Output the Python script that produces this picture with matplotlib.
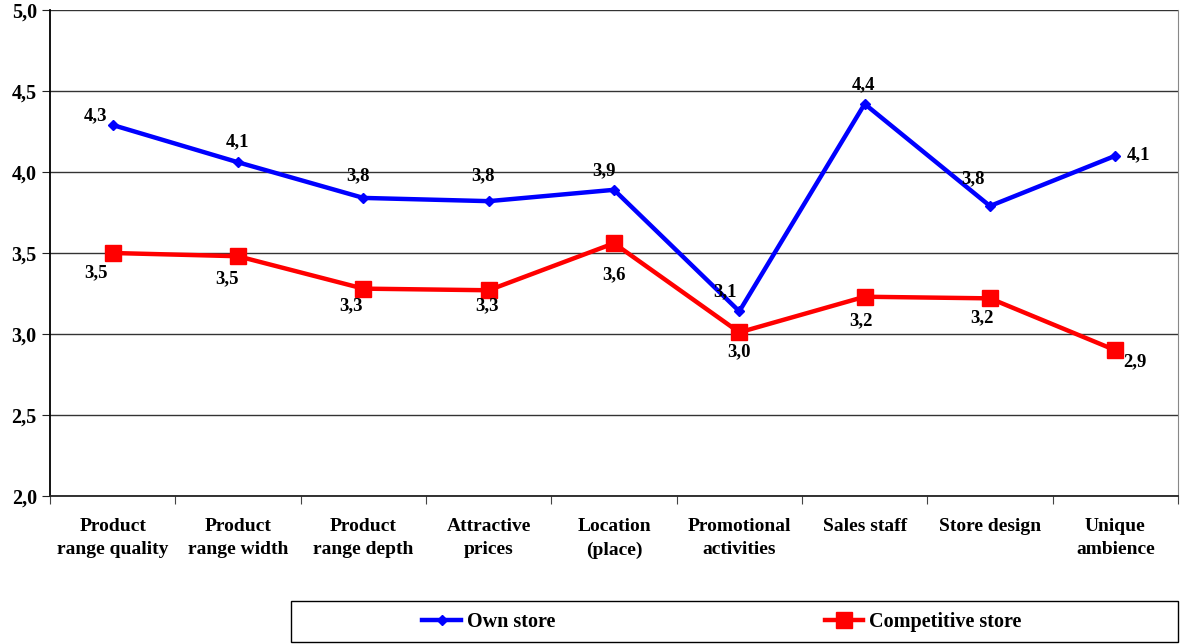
import matplotlib
matplotlib.use("Agg")
import matplotlib.pyplot as plt
from matplotlib.patches import Rectangle
import numpy as np

categories = [
	"Product\nrange quality",
	"Product\nrange width",
	"Product\nrange depth",
	"Attractive\nprices",
	"Location\n(place)",
	"Promotional\nactivities",
	"Sales staff",
	"Store design",
	"Unique\nambience",
]
own_store = [4.29, 4.06, 3.84, 3.82, 3.89, 3.14, 4.42, 3.79, 4.10]
competitive_store = [3.50, 3.48, 3.28, 3.27, 3.56, 3.01, 3.23, 3.22, 2.90]

# label offsets in points (dx, dy) for each value label
own_offsets = [(-12, 7), (0, 15), (-4, 16), (-4, 18), (-7, 14), (-10, 14), (-1, 14), (-12, 20), (17, 1)]
comp_offsets = [(-12, -14), (-8, -16), (-9, -12), (-1, -11), (0, -23), (0, -14), (-3, -17), (-6, -14), (14, -8)]

plt.rcParams['font.family'] = ['Liberation Serif', 'DejaVu Serif']
plt.rcParams['font.weight'] = 'bold'


def fmt(v):
	return "{0:.1f}".format(v).replace('.', ',')


def main():
	fig = plt.figure(figsize=(11.82, 6.44), dpi=100)
	ax = fig.add_axes([0.0423, 0.2298, 0.9543, 0.7547])

	x = np.arange(len(categories))
	ax.set_xlim(-0.5, len(categories) - 0.5)
	ax.set_ylim(2.0, 5.0)

	yticks = np.arange(2.0, 5.01, 0.5)
	ax.set_yticks(yticks)
	ax.set_yticklabels([fmt(t) for t in yticks], fontsize=14.5, fontweight='bold')
	ax.yaxis.grid(True, color='#333333', linewidth=1.0)
	ax.set_axisbelow(True)

	# category labels centred, tick marks on boundaries
	ax.set_xticks(np.arange(-0.5, len(categories)), minor=False)
	ax.set_xticklabels([])
	ax.set_xticks(x, minor=True)
	ax.set_xticklabels(categories, minor=True, fontsize=14, fontweight='bold',
		linespacing=1.45)
	ax.tick_params(axis='x', which='minor', length=0, pad=16)
	ax.tick_params(axis='x', which='major', length=6, direction='out', color='#444444')
	ax.tick_params(axis='y', length=6, direction='out', color='#222222')

	ax.spines['top'].set_visible(False)
	ax.spines['right'].set_color('#888888')
	ax.spines['left'].set_color('black')
	ax.spines['left'].set_linewidth(1.3)
	ax.spines['bottom'].set_color('#222222')
	ax.spines['bottom'].set_linewidth(1.3)

	ax.plot(x, own_store, color='#0000ff', linewidth=3.2, marker='D',
		markersize=5, label='Own store', zorder=3)
	ax.plot(x, competitive_store, color='#ff0000', linewidth=3.2, marker='s',
		markersize=11, label='Competitive store', zorder=3)

	for xi, v, off in zip(x, own_store, own_offsets):
		ax.annotate(fmt(v), (xi, v), xytext=off, textcoords='offset points',
			ha='center', va='center', fontsize=13.5, fontweight='bold')
	for xi, v, off in zip(x, competitive_store, comp_offsets):
		ax.annotate(fmt(v), (xi, v), xytext=off, textcoords='offset points',
			ha='center', va='center', fontsize=13.5, fontweight='bold')

	# legend box across the bottom right
	fig.patches.append(Rectangle((291 / 1182, 2 / 644), 887 / 1182, 41 / 644,
		transform=fig.transFigure, fill=False, edgecolor='black', linewidth=1.0))
	fig.legend(loc='center', bbox_to_anchor=(722 / 1182, 22 / 644),
		ncol=2, frameon=False, prop={'size': 14.5, 'weight': 'bold'},
		handlelength=1.9, handletextpad=0.3, columnspacing=13.4, borderaxespad=0)

	fig.savefig('out.png', dpi=100)


if __name__ == '__main__':
	main()
